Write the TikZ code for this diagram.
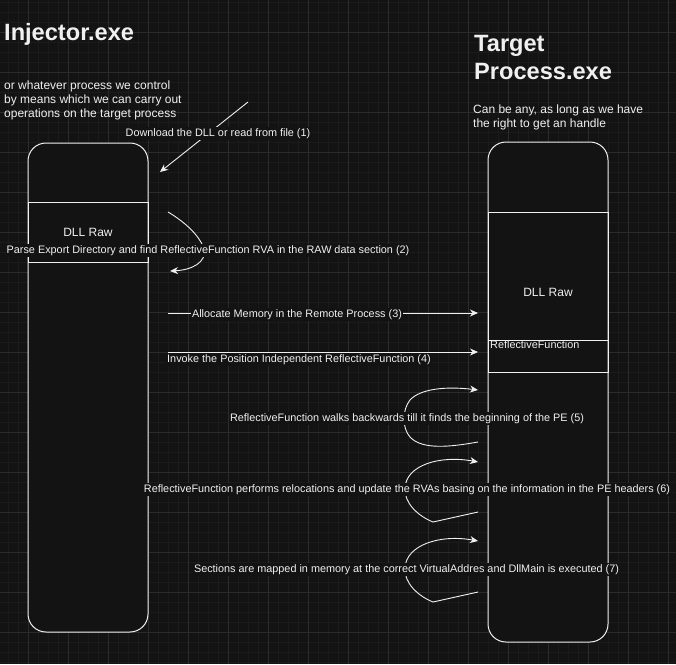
\documentclass[tikz,border=0pt]{standalone}
\usepackage{fontspec}
\setmainfont{Liberation Sans}
\usetikzlibrary{arrows.meta}
\definecolor{bg}{HTML}{131313}
\definecolor{gmin}{HTML}{1B1B1B}
\definecolor{gmaj}{HTML}{2B2B2B}
\definecolor{fg}{HTML}{F0F0F0}
\tikzset{
  lane/.style={draw=fg, fill=bg, line width=1pt, rounded corners=18pt, minimum width=120pt, inner sep=0pt},
  part/.style={draw=fg, line width=1pt, minimum width=120pt, inner sep=0pt, text=fg, font=\fontsize{12}{14}\selectfont},
  lbl/.style={fill=bg, text=fg, font=\fontsize{10.85}{13}\selectfont, inner sep=1pt},
  title/.style={font=\bfseries\fontsize{23.6}{28.5}\selectfont, text=fg, inner sep=0pt, anchor=base west, align=left},
  sub/.style={font=\fontsize{12}{14}\selectfont, text=fg, inner sep=0pt, anchor=base west, align=left},
  flow/.style={draw=fg, line width=0.9pt, -{Stealth[length=8pt,width=7pt,inset=2.5pt]}}
}
\begin{document}
\begin{tikzpicture}[x=1pt,y=-1pt]
\useasboundingbox (0,0) rectangle (676,664);
\fill[bg] (0,0) rectangle (676,664);
\foreach \x in {8,18,...,668} \draw[gmin,line width=0.6pt] (\x,0) -- (\x,664);
\foreach \y in {2,12,...,662} \draw[gmin,line width=0.6pt] (0,\y) -- (676,\y);
\foreach \x in {28,68,...,668} \draw[gmaj,line width=0.8pt] (\x,0) -- (\x,664);
\foreach \y in {32,72,...,632} \draw[gmaj,line width=0.8pt] (0,\y) -- (676,\y);

% titles
\node[title] (t1) at (4,40) {Injector.exe};
\node[sub] (s1) at (4,117) {or whatever process we control\\by means which we can carry out\\operations on the target process};
\node[title] (t2) at (474,79.5) {Target\\Process.exe};
\node[sub] (s2) at (473,127) {Can be any, as long as we have\\the right to get an handle};

% lanes
\node[lane, minimum height=489pt] (inj) at (88,387.5) {};
\node[part, minimum height=60pt] (ldll) at (88,232) {DLL Raw};
\node[lane, minimum height=500pt] (tgt) at (548,392) {};
\node[part, minimum height=160pt] (rdll) at (548,292) {DLL Raw};
\node[part, minimum height=32pt] (rf) at (548,356) {};
\node[lbl, anchor=west, inner sep=0.5pt] (rft) at (489.5,345) {ReflectiveFunction};

% coordinates
\coordinate (a1s) at (248,102);
\coordinate (a1e) at (160,172);
\coordinate (a2s) at (168,212);
\coordinate (a2e) at (170,271);
\coordinate (a3s) at (168,313);
\coordinate (a3e) at (478,313);
\coordinate (a4s) at (168,352);
\coordinate (a4e) at (478,352);
\coordinate (a5s) at (478,442);
\coordinate (a5e) at (478,390);
\coordinate (a6s) at (478,512);
\coordinate (a6e) at (478,462);
\coordinate (a7s) at (478,592);
\coordinate (a7e) at (478,541);

% arrows
\draw[flow] (a1s) -- (a1e);
\draw[flow] (a2s) .. controls (185,222) and (200,236) .. (204,249) .. controls (207,262) and (192,270) .. (a2e);
\draw[flow] (a3s) -- (a3e);
\draw[flow] (a4s) -- (a4e);
\draw[flow] (a5s) .. controls (450,447) and (422,450) .. (410,437) .. controls (402,428) and (402,410) .. (410,400) .. controls (420,389) and (445,386) .. (a5e);
\draw[flow] (a6s) -- (433,522) .. controls (418,516) and (404,503) .. (405,488) .. controls (406,465) and (440,455) .. (a6e);
\draw[flow] (a7s) -- (433,602) .. controls (418,596) and (404,583) .. (405,568) .. controls (406,545) and (440,534) .. (a7e);

% labels
\node[lbl] (l1) at (218,133.5) {Download the DLL or read from file (1)};
\node[lbl] (l2) at (208,250.5) {Parse Export Directory and find ReflectiveFunction RVA in the RAW data section (2)};
\node[lbl] (l3) at (297,314.5) {Allocate Memory in the Remote Process (3)};
\node[lbl] (l4) at (299,359.5) {Invoke the Position Independent ReflectiveFunction (4)};
\node[lbl] (l5) at (407,418.5) {ReflectiveFunction walks backwards till it finds the beginning of the PE (5)};
\node[lbl] (l6) at (407,489.5) {ReflectiveFunction performs relocations and update the RVAs basing on the information in the PE headers (6)};
\node[lbl] (l7) at (406.5,569.5) {Sections are mapped in memory at the correct VirtualAddres and DllMain is executed (7)};
\end{tikzpicture}
\end{document}
